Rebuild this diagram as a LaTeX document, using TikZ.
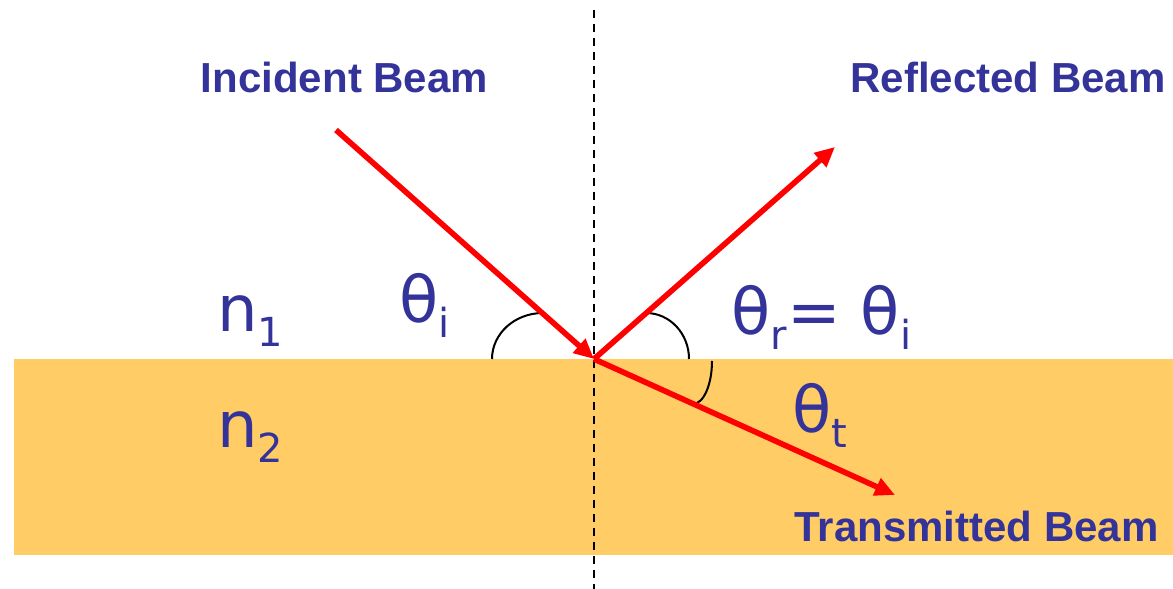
\documentclass[tikz,border=0pt]{standalone}
\usepackage{fontspec}
\setmainfont{DejaVu Sans}
\newfontfamily\beamfont{Liberation Sans}
\usetikzlibrary{arrows.meta}
\definecolor{labelblue}{HTML}{333399}
\definecolor{slaborange}{HTML}{FFCC66}
\newcommand{\lowsub}[1]{\raisebox{-7.5pt}{\fontsize{20}{20}\selectfont #1}}

\begin{document}
\begin{tikzpicture}[
  x=0.5pt, y=0.5pt,
  every node/.style={inner sep=0pt, text=labelblue, anchor=base west},
  beam/.style={draw=red, line width=2.8pt, -{Triangle[length=10pt,width=9pt]}},
  beamlabel/.style={anchor=base, font=\beamfont\bfseries\fontsize{21}{21}\selectfont},
  symbol/.style={font=\fontsize{32}{32}\selectfont},
  normal/.style={draw=black, line width=1pt, dash pattern=on 4pt off 3pt},
  anglemark/.style={draw=black, line width=1pt}
]
  \useasboundingbox (0,0) rectangle (1173,589);
  % second medium below the interface
  \fill[slaborange] (14,34) rectangle (1173,230);

  \coordinate (O) at (594,230);
  \coordinate (top) at (594,579);
  \coordinate (bottom) at (594,0);
  \coordinate (source) at (336,459);
  \coordinate (reflect) at (835,442);
  \coordinate (transmit) at (895,94);

  \draw[normal] (top) -- (bottom);

  \draw[anglemark] (O) ++(-102,0) arc[start angle=180, end angle=90, x radius=51, y radius=46];
  \draw[anglemark] (O) ++(52,46) arc[start angle=90, end angle=0, x radius=43, y radius=46];
  \draw[anglemark] (O) ++(118,-2) arc[start angle=0, end angle=-90, x radius=19, y radius=43];

  \draw[beam] (source) -- (O);
  \draw[beam] (O) -- (reflect);
  \draw[beam] (O) -- (transmit);

  \node[beamlabel] (incident) at (344.5,496) {Incident Beam};
  \node[beamlabel] (reflected) at (1008,496) {Reflected Beam};
  \node[beamlabel] (transmitted) at (976.5,47) {Transmitted Beam};

  \node[symbol] (n1) at (217,257) {n\lowsub{1}};
  \node[symbol] (n2) at (217,141) {n\lowsub{2}};
  \node[symbol] (thetai) at (399,266) {θ\lowsub{i}};
  \node[symbol] (thetar) at (731,254) {θ\lowsub{r}= θ\lowsub{i}};
  \node[symbol] (thetat) at (792,156) {θ\lowsub{t}};
\end{tikzpicture}
\end{document}
